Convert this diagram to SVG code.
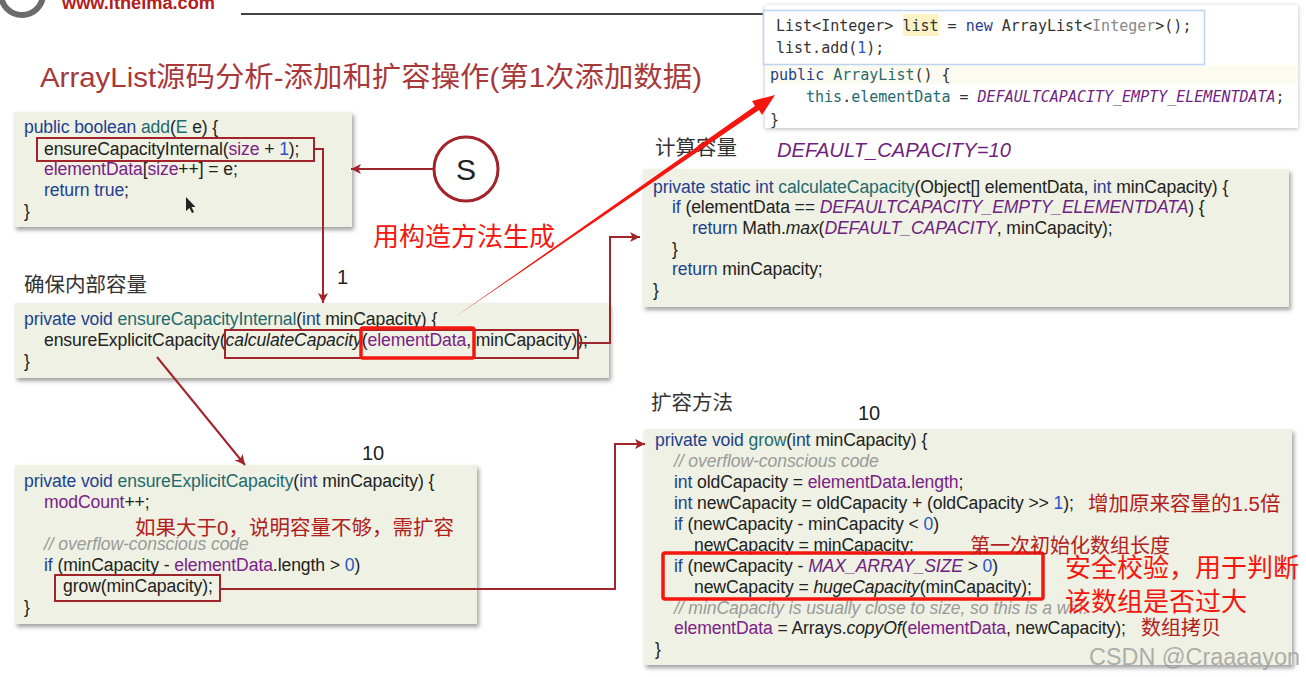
<svg xmlns="http://www.w3.org/2000/svg" width="1306" height="677" viewBox="0 0 1306 677">
<style>
text{font-family:"Liberation Sans","Noto Sans CJK SC",sans-serif;fill:#222}
.code{font-size:17.6px;letter-spacing:-.1px}
.k{fill:#1f3f8f}.m{fill:#1f6b6e}.f{fill:#7b2188}.c{fill:#9a9a9a;font-style:italic}.n{fill:#2b55c4}.i{font-style:italic}
.fi{fill:#6f1f80;font-style:italic}
.box{fill:#eef1e3;filter:url(#sh)}
.dk{fill:none;stroke:#a0242a;stroke-width:2}
.br{fill:none;stroke:#f5170f;stroke-width:3.5}
.con{fill:none;stroke:#a0242a;stroke-width:2}
.h{font-size:20.5px;fill:#333}
.dr{fill:#b3201c}
.rd{fill:#f5170f;font-size:26px}
.mono{font-family:"DejaVu Sans Mono",monospace;font-size:15px;fill:#333}
</style>
<defs>
<filter id="sh" x="-5%" y="-10%" width="110%" height="120%"><feDropShadow dx="2" dy="3" stdDeviation="2" flood-color="#777" flood-opacity=".7"/></filter>
<filter id="sh2" x="-5%" y="-10%" width="110%" height="120%"><feDropShadow dx="0" dy="1" stdDeviation="2" flood-color="#999" flood-opacity=".7"/></filter>
<marker id="a" markerUnits="userSpaceOnUse" markerWidth="11" markerHeight="10" refX="10" refY="5" orient="auto"><path d="M0 0L10 5L0 10L2.5 5z" fill="#a0242a"/></marker>
</defs>
<rect width="1306" height="677" fill="#fff"/>
<g id="header">
<circle cx="22" cy="-6" r="21" fill="none" stroke="#6b6b6b" stroke-width="6"/>
<text x="62" y="9" font-size="18" font-weight="700" style="fill:#b3201c" textLength="153" lengthAdjust="spacingAndGlyphs">www.itheima.com</text>
<rect x="241" y="13" width="524" height="2" fill="#444"/>
<text x="40" y="87" font-size="28.5" style="fill:#a8383a" textLength="662" lengthAdjust="spacingAndGlyphs">ArrayList源码分析-添加和扩容操作(第1次添加数据)</text>
</g>
<g id="node-add">
<rect class="box" x="14" y="112" width="338" height="115"/>
<text class="code" x="24" y="133"><tspan class="k">public boolean</tspan> <tspan class="m">add</tspan>(<tspan class="m">E</tspan> e) {</text>
<text class="code" x="44" y="155">ensureCapacityInternal(<tspan class="f">size</tspan> + <tspan class="n">1</tspan>);</text>
<text class="code" x="44" y="175"><tspan class="f">elementData</tspan>[<tspan class="f">size</tspan>++] = e;</text>
<text class="code" x="44" y="196"><tspan class="k">return true</tspan>;</text>
<text class="code" x="24" y="217">}</text>
<rect class="dk" x="37" y="138" width="277" height="23"/>
<path d="M186 197v14l3.500-3 2.500 5 2-1-2.500-5h4z" fill="#222"/>
</g>
<g id="node-start">
<circle cx="466" cy="169" r="32" fill="#fff" stroke="#a0242a" stroke-width="3"/>
<text x="466" y="180" font-size="30" text-anchor="middle">S</text>
</g>
<g id="node-internal">
<text class="h" x="24" y="292">确保内部容量</text>
<rect class="box" x="15" y="303" width="594" height="75"/>
<text class="code" x="24" y="325"><tspan class="k">private void</tspan> <tspan class="m">ensureCapacityInternal</tspan>(<tspan class="k">int</tspan> minCapacity) {</text>
<text class="code" x="44" y="346">ensureExplicitCapacity(<tspan class="i">calculateCapacity</tspan>(<tspan class="f">elementData</tspan>, minCapacity));</text>
<text class="code" x="24" y="367">}</text>
<rect class="dk" x="225" y="330" width="353" height="28"/>
<rect class="br" x="361" y="328" width="113" height="30" rx="2"/>
</g>
<g id="node-explicit">
<rect class="box" x="15" y="465" width="462" height="159"/>
<text class="code" x="24" y="487"><tspan class="k">private void</tspan> <tspan class="m">ensureExplicitCapacity</tspan>(<tspan class="k">int</tspan> minCapacity) {</text>
<text class="code" x="44" y="508"><tspan class="f">modCount</tspan>++;</text>
<text class="code c" x="44" y="550">// overflow-conscious code</text>
<text class="code" x="44" y="571"><tspan class="k">if</tspan> (minCapacity - <tspan class="f">elementData</tspan>.length &gt; <tspan class="n">0</tspan>)</text>
<text class="code" x="63" y="592">grow(minCapacity);</text>
<text class="code" x="24" y="613">}</text>
<rect class="dk" x="55" y="575" width="165" height="26"/>
<text class="dr" x="135" y="535" font-size="20.500">如果大于0，说明容量不够，需扩容</text>
</g>
<g id="node-calc">
<text class="h" x="655" y="155">计算容量</text>
<text x="777" y="157" font-size="20.200" class="fi">DEFAULT_CAPACITY=10</text>
<rect class="box" x="643" y="169" width="646" height="138"/>
<text class="code" x="653" y="193"><tspan class="k">private static int</tspan> <tspan class="m">calculateCapacity</tspan>(Object[] elementData, <tspan class="k">int</tspan> minCapacity) {</text>
<text class="code" x="672" y="213"><tspan class="k">if</tspan> (elementData == <tspan class="fi">DEFAULTCAPACITY_EMPTY_ELEMENTDATA</tspan>) {</text>
<text class="code" x="692" y="234"><tspan class="k">return</tspan> Math.<tspan class="i">max</tspan>(<tspan class="fi">DEFAULT_CAPACITY</tspan>, minCapacity);</text>
<text class="code" x="672" y="255">}</text>
<text class="code" x="672" y="275"><tspan class="k">return</tspan> minCapacity;</text>
<text class="code" x="653" y="296">}</text>
</g>
<g id="node-grow">
<text class="h" x="651" y="410">扩容方法</text>
<rect class="box" x="644" y="429" width="648" height="236"/>
<text class="code" x="655" y="446"><tspan class="k">private void</tspan> <tspan class="m">grow</tspan>(<tspan class="k">int</tspan> minCapacity) {</text>
<text class="code c" x="674" y="467">// overflow-conscious code</text>
<text class="code" x="674" y="488"><tspan class="k">int</tspan> oldCapacity = <tspan class="f">elementData</tspan>.<tspan class="f">length</tspan>;</text>
<text class="code" x="674" y="509"><tspan class="k">int</tspan> newCapacity = oldCapacity + (oldCapacity &gt;&gt; <tspan class="n">1</tspan>);</text>
<text class="code" x="674" y="530"><tspan class="k">if</tspan> (newCapacity - minCapacity &lt; <tspan class="n">0</tspan>)</text>
<text class="code" x="694" y="551">newCapacity = minCapacity;</text>
<text class="code" x="674" y="572"><tspan class="k">if</tspan> (newCapacity - <tspan class="fi">MAX_ARRAY_SIZE</tspan> &gt; <tspan class="n">0</tspan>)</text>
<text class="code" x="694" y="593">newCapacity = <tspan class="i">hugeCapacity</tspan>(minCapacity);</text>
<text class="code c" x="674" y="614">// minCapacity is usually close to size, so this is a win:</text>
<text class="code" x="674" y="634"><tspan class="f">elementData</tspan> = Arrays.<tspan class="i">copyOf</tspan>(<tspan class="f">elementData</tspan>, newCapacity);</text>
<text class="code" x="655" y="655">}</text>
<rect class="br" x="663" y="553" width="380" height="46" rx="2"/>
<text class="dr" x="1088" y="511" font-size="20.500">增加原来容量的1.5倍</text>
<text class="dr" x="970" y="553" font-size="20">第一次初始化数组长度</text>
<text class="rd" x="1065" y="577">安全校验，用于判断</text>
<text class="rd" x="1065" y="611">该数组是否过大</text>
<text class="dr" x="1141" y="635" font-size="20">数组拷贝</text>
</g>
<g id="node-ide">
<rect x="765" y="5" width="533" height="123" fill="#fff" filter="url(#sh2)"/>
<rect x="766" y="65" width="532" height="19" fill="#fdfbf0"/>
<text class="mono" x="770" y="80"><tspan class="k">public</tspan> <tspan class="m">ArrayList</tspan>() {</text>
<text class="mono" x="806" y="102"><tspan class="m">this</tspan>.<tspan class="m">elementData</tspan> = <tspan style="fill:#6f1f80;font-style:italic">DEFAULTCAPACITY_EMPTY_ELEMENTDATA</tspan>;</text>
<text class="mono" x="770" y="125">}</text>
<rect x="763.500" y="10.500" width="441" height="54" fill="#fff" stroke="#bcd3f2" stroke-width="1.500"/>
<rect x="903" y="14" width="36" height="22" fill="#fbf3c6"/>
<text class="mono" x="776" y="31">List&lt;Integer&gt; list = <tspan style="fill:#1f3f8f">new</tspan> ArrayList&lt;<tspan style="fill:#888">Integer</tspan>&gt;();</text>
<text class="mono" x="776" y="53">list.add(<tspan style="fill:#2b55c4">1</tspan>);</text>
</g>
<g id="connectors">
<path class="con" d="M314 149H323V303" marker-end="url(#a)"/>
<path class="con" d="M433 169H351" marker-end="url(#a)"/>
<path class="con" d="M578 343H610V237H640" marker-end="url(#a)"/>
<path class="con" d="M157 357L245 465" marker-end="url(#a)"/>
<path class="con" d="M220 589H615V444H645" marker-end="url(#a)"/>
<path d="M455 317L755 106L752 101L775 95L762 115L759 110Z" fill="#f5170f"/>
</g>
<g id="labels">
<text x="337" y="284" font-size="20">1</text>
<text x="362" y="460" font-size="20">10</text>
<text x="858" y="420" font-size="20">10</text>
<text x="373" y="246" font-size="26" style="fill:#f5170f">用构造方法生成</text>
<text x="1089" y="665" font-size="23" style="fill:#9a9a9a" fill-opacity=".8" textLength="211" lengthAdjust="spacingAndGlyphs">CSDN @Craaaayon</text>
</g>
</svg>
